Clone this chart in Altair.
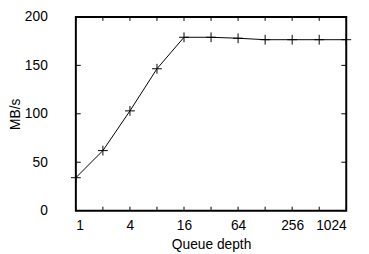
import altair as alt
import pandas as pd

# Data
queue_depth = [1, 2, 4, 8, 16, 32, 64, 128, 256, 512, 1024]
mb_per_s = [34, 62, 103, 146.5, 179, 179, 178, 176.5, 176.5, 176.5, 176.5]
x_tick_values = [1, 2, 4, 8, 16, 32, 64, 128, 256, 512, 1024]
x_label_values = [1, 4, 16, 64, 256, 1024]
y_tick_values = [0, 50, 100, 150, 200]

W, H = 275, 197
FONT = "Liberation Sans"
FS = 14

df = pd.DataFrame({"q": queue_depth, "v": mb_per_s})
xt = pd.DataFrame({"q": x_tick_values})
yt = pd.DataFrame({"v": y_tick_values})

xscale = alt.Scale(type="log", base=2, domain=[1, 1024], nice=False)
yscale = alt.Scale(domain=[0, 200], nice=False)

xaxis = alt.Axis(values=x_label_values, format="d", ticks=False, domain=False, grid=False,
                 labelPadding=8, labelFontSize=FS, labelFont=FONT, labelColor="black",
                 title="Queue depth", titleFontSize=FS, titleFont=FONT, titleFontWeight="normal",
                 titleColor="black", titleY=39, titleBaseline="alphabetic")
yaxis = alt.Axis(values=y_tick_values, format="d", ticks=False, domain=False, grid=False,
                 labelPadding=29, labelFontSize=FS, labelFont=FONT, labelColor="black",
                 title="MB/s", titleFontSize=FS, titleFont=FONT, titleFontWeight="normal",
                 titleColor="black", titleX=-57, titleY=H / 2, titleBaseline="alphabetic")

line = alt.Chart(df).mark_line(color="black", strokeWidth=1).encode(
    x=alt.X("q:Q", scale=xscale, axis=xaxis),
    y=alt.Y("v:Q", scale=yscale, axis=yaxis),
)
pts = alt.Chart(df).mark_point(shape="M-1,0L1,0M0,-1L0,1", filled=False, size=100,
                               color="black", strokeWidth=1, opacity=1).encode(
    x=alt.X("q:Q", scale=xscale),
    y=alt.Y("v:Q", scale=yscale),
)
tick_b = alt.Chart(xt).mark_rule(color="black", strokeWidth=1).encode(
    x=alt.X("q:Q", scale=xscale), y=alt.value(H), y2=alt.value(H - 4))
tick_t = alt.Chart(xt).mark_rule(color="black", strokeWidth=1).encode(
    x=alt.X("q:Q", scale=xscale), y=alt.value(0), y2=alt.value(4))
tick_l = alt.Chart(yt).mark_rule(color="black", strokeWidth=1).encode(
    y=alt.Y("v:Q", scale=yscale), x=alt.value(0), x2=alt.value(5))
tick_r = alt.Chart(yt).mark_rule(color="black", strokeWidth=1).encode(
    y=alt.Y("v:Q", scale=yscale), x=alt.value(W), x2=alt.value(W - 5))

chart = alt.layer(line, pts, tick_b, tick_t, tick_l, tick_r).properties(
    width=W, height=H,
    autosize=alt.AutoSizeParams(type="none"),
    padding={"left": 69, "top": 7, "right": 15, "bottom": 42},
).configure(background="white").configure_view(stroke="black", strokeWidth=2)

chart.save("out.html", embed_options={"renderer": "svg", "actions": False})
